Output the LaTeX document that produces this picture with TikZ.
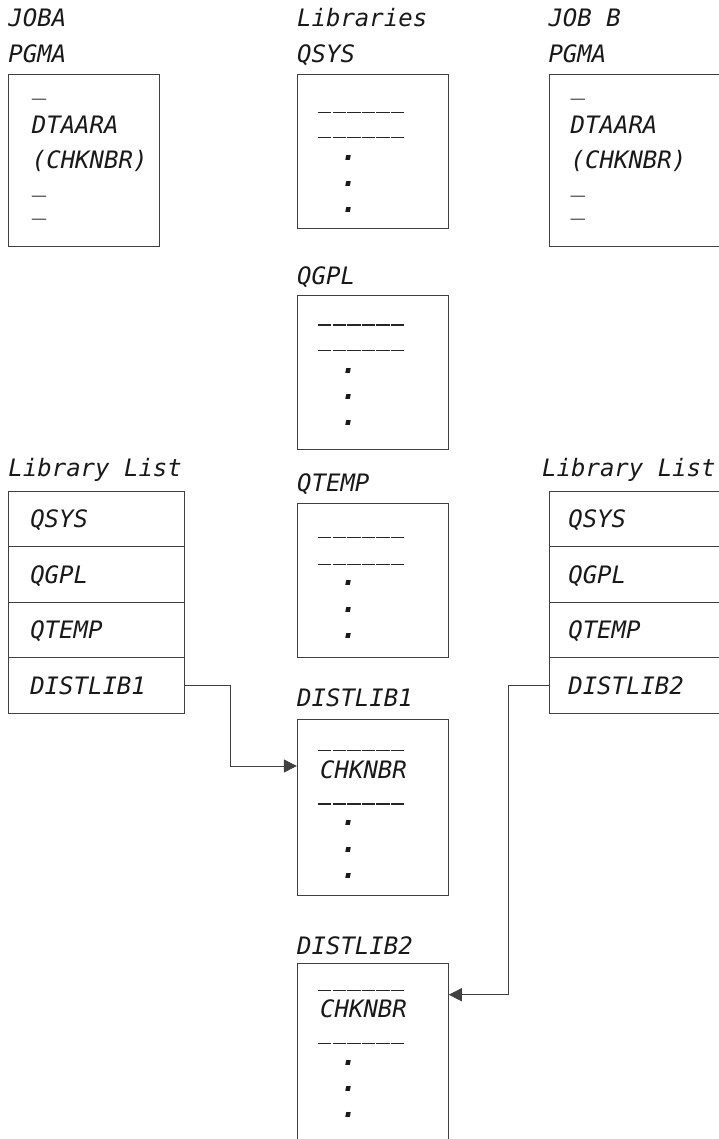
\documentclass[tikz,border=0pt]{standalone}
\usepackage{fontspec}
\newfontfamily\monofnt{DejaVu Sans Mono}
\usetikzlibrary{arrows.meta}
\begin{document}
\begin{tikzpicture}[x=1pt,y=-1pt,
  every node/.style={font=\monofnt\itshape\fontsize{24}{28}\selectfont, text=black!90, inner sep=0pt},
  lbl/.style={anchor=base west},
  cnt/.style={anchor=base west},
  dotc/.style={anchor=base, font=\monofnt\bfseries\itshape\fontsize{28}{30}\selectfont},
  box/.style={draw=black!75, line width=0.9pt, rectangle, inner sep=0pt},
  pgmbox/.style={box, minimum width=151pt, minimum height=172pt},
  libbox/.style={box, minimum width=151pt, minimum height=154pt},
  rowl/.style={box, minimum width=176pt, minimum height=55.5pt, text width=132pt, align=left, text height=17.5pt, text depth=0pt},
  rowr/.style={box, minimum width=200pt, minimum height=55.5pt, text width=162pt, align=left, text height=17.5pt, text depth=0pt},
  rule/.style={draw=black!85, line width=1.5pt, dash pattern=on 13.4pt off 1.2pt},
  conn/.style={draw=black!75, line width=0.9pt, -{Triangle[length=13pt,width=13pt]}}
]
\useasboundingbox (0,0) rectangle (719,1139);
\clip (0,0) rectangle (719,1139);

% ---------- top labels ----------
\node[lbl] (tjoba) at (8.3,26.7) {JOBA};
\node[lbl] (tpgma) at (8.3,62.7) {PGMA};
\node[lbl] (tlibs) at (297,26.7) {Libraries};
\node[lbl] (tqsys) at (297,62.7) {QSYS};
\node[lbl] (tjobb) at (548.3,26.7) {JOB B};
\node[lbl] (tpgmb) at (548.3,62.7) {PGMA};

% ---------- JOBA program box ----------
\node[pgmbox] (joba) at (83.8,160) {};
\node[cnt] (ja1) at (31.7,94.3) {\_};
\node[cnt] (ja2) at (31.7,134) {DTAARA};
\node[cnt] (ja3) at (31.7,168.3) {(CHKNBR)};
\node[cnt] (ja4) at (31.7,191.7) {\_};
\node[cnt] (ja5) at (31.7,215) {\_};

% ---------- JOB B program box ----------
\node[pgmbox, minimum width=200pt] (jobb) at (649,160) {};
\node[cnt] (jb1) at (570.5,94.3) {\_};
\node[cnt] (jb2) at (570.5,134) {DTAARA};
\node[cnt] (jb3) at (570.5,168.3) {(CHKNBR)};
\node[cnt] (jb4) at (570.5,191.7) {\_};
\node[cnt] (jb5) at (570.5,215) {\_};

% ---------- QSYS ----------
\node[libbox] (qsys) at (372.8,151) {};
\draw[rule] (318,112.7) -- ++(86.4,0);
\draw[rule] (318,137.7) -- ++(86.4,0);
\node[dotc] (qs3) at (349,160.3) {.};
\node[dotc] (qs4) at (349,186.3) {.};
\node[dotc] (qs5) at (349,213) {.};

% ---------- QGPL ----------
\node[lbl] (tqgpl) at (297,285) {QGPL};
\node[libbox] (qgpl) at (372.8,372) {};
\draw[rule] (318,325) -- ++(86.4,0);
\draw[rule] (318,350.7) -- ++(86.4,0);
\node[dotc] (qg3) at (349,373) {.};
\node[dotc] (qg4) at (349,399) {.};
\node[dotc] (qg5) at (349,425.6) {.};

% ---------- QTEMP ----------
\node[lbl] (tqtemp) at (297,491.7) {QTEMP};
\node[libbox] (qtemp) at (372.8,580) {};
\draw[rule] (318,537.7) -- ++(86.4,0);
\draw[rule] (318,564.3) -- ++(86.4,0);
\node[dotc] (qt3) at (349,585.6) {.};
\node[dotc] (qt4) at (349,612.3) {.};
\node[dotc] (qt5) at (349,638.3) {.};

% ---------- DISTLIB1 ----------
\node[lbl] (td1) at (297,706.7) {DISTLIB1};
\node[libbox, minimum height=176pt] (d1) at (372.8,807) {};
\draw[rule] (318,750.7) -- ++(86.4,0);
\node[cnt] (d1b) at (320,778.3) {CHKNBR};
\draw[rule] (318,804) -- ++(86.4,0);
\node[dotc] (d1d) at (349,825.6) {.};
\node[dotc] (d1e) at (349,852.3) {.};
\node[dotc] (d1f) at (349,878.3) {.};

% ---------- DISTLIB2 ----------
\node[lbl] (td2) at (297,954) {DISTLIB2};
\node[libbox, minimum height=200pt] (d2) at (372.8,1063.3) {};
\draw[rule] (318,990.7) -- ++(86.4,0);
\node[cnt] (d2b) at (320,1017.3) {CHKNBR};
\draw[rule] (318,1043.3) -- ++(86.4,0);
\node[dotc] (d2d) at (349,1065) {.};
\node[dotc] (d2e) at (349,1091.3) {.};
\node[dotc] (d2f) at (349,1117.3) {.};

% ---------- Library lists ----------
\node[lbl] (tll) at (8.3,476.7) {Library List};
\node[rowl] (l1) at (96.3,518.75) {QSYS};
\node[rowl] (l2) at (96.3,574.25) {QGPL};
\node[rowl] (l3) at (96.3,629.75) {QTEMP};
\node[rowl] (l4) at (96.3,685.25) {DISTLIB1};

\node[lbl] (trl) at (542,476.7) {Library List};
\node[rowr] (r1) at (649.3,518.75) {QSYS};
\node[rowr] (r2) at (649.3,574.25) {QGPL};
\node[rowr] (r3) at (649.3,629.75) {QTEMP};
\node[rowr] (r4) at (649.3,685.25) {DISTLIB2};

% ---------- connectors ----------
\coordinate (c1) at (230,766);
\draw[conn] (l4.east) -| (c1) -- (d1.west |- c1);
\coordinate (c2) at (508.7,994.7);
\draw[conn] (r4.west) -| (c2) -- (d2.east |- c2);
\end{tikzpicture}
\end{document}
